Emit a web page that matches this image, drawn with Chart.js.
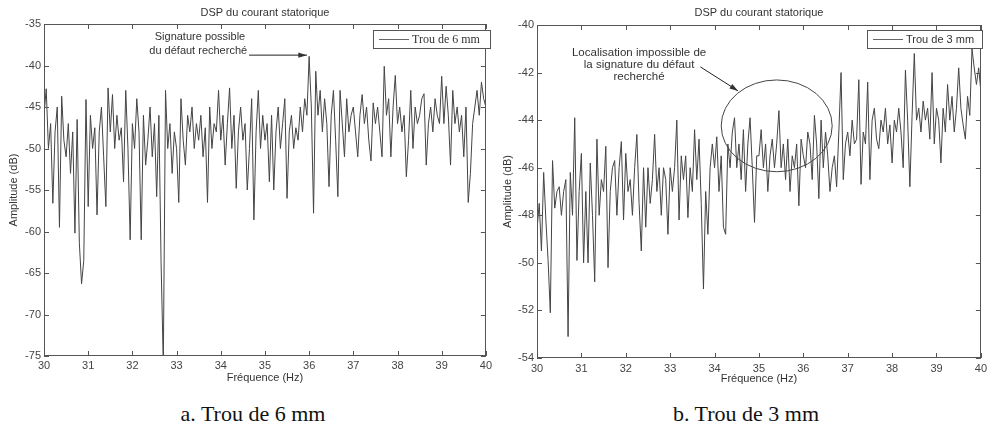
<!DOCTYPE html>
<html>
<head>
<meta charset="utf-8">
<script src="https://cdn.jsdelivr.net/npm/chart.js@4.4.1/dist/chart.umd.min.js"></script>
<style>
  body { margin: 0; background: #fff; width: 991px; height: 431px; position: relative; overflow: hidden; }
  .panel { position: absolute; top: 0; height: 395px; }
  .caption { position: absolute; top: 401px; width: 300px; text-align: center; font-family: "Liberation Serif", serif; font-size: 22px; line-height: 26px; color: #111; }
</style>
</head>
<body>
<div class="panel" style="left:0; width:495px;"><canvas id="dsp6"></canvas></div>
<div class="panel" style="left:495px; width:496px;"><canvas id="dsp3"></canvas></div>
<div class="caption" style="left:103px;">a. Trou de 6 mm</div>
<div class="caption" style="left:596px;">b. Trou de 3 mm</div>

<script>
// frequency grid: 30 Hz to 40 Hz, one point every 0.05 Hz
var freqStart = 30;
var freqStep = 0.05;

// DSP, hole of 6 mm (dB)
var dspTrou6 = [
  -46, -42.8, -50, -47, -56.6, -48, -45, -59.5, -43.7, -49,
  -51, -47, -53, -48, -60.2, -46.5, -61.4, -66.3, -63.5, -44.1,
  -57, -46, -50, -47.5, -58, -48, -45, -51, -57, -42.7,
  -48, -43.5, -50, -46, -49, -47.5, -54, -43, -50, -61,
  -47, -50, -44, -48, -61, -46, -52, -49, -45, -51,
  -47, -55.8, -46, -63.9, -76, -43, -50, -47, -53, -48,
  -50, -56.5, -44, -49, -52, -46, -48, -45, -50, -47,
  -49, -46, -51, -47.5, -56.5, -45, -50, -47, -48, -43,
  -49, -46, -52, -47, -42.7, -50, -46, -54.8, -48, -45,
  -49, -47, -55, -50, -44, -58.6, -48, -43, -50, -46,
  -49, -47, -54, -46, -55, -48, -45, -50, -47, -44,
  -56, -48, -46, -50, -47.5, -49, -45, -48, -44, -46,
  -38.9, -45, -57.8, -40.7, -46, -43, -48, -44, -47, -54.6,
  -46, -43, -49, -55.8, -43, -47, -51, -44, -48, -46,
  -45, -48, -51, -46, -43.5, -47, -45, -49, -51.5, -44.5,
  -47, -45, -48, -51, -40.1, -46, -44, -51, -45, -41.2,
  -47, -45, -48, -46, -53.4, -49, -43, -50, -45, -47,
  -46, -44, -43.4, -52, -47, -45, -48, -44, -46, -47,
  -41.3, -47, -42.5, -46, -52, -43, -47, -45, -48, -46,
  -51, -45, -56.5, -53, -47, -45, -43, -46, -42, -44,
  -45
];

// DSP, hole of 3 mm (dB)
var dspTrou3 = [
  -48.6, -47.5, -49.5, -46.2, -48.2, -49.9, -52.1, -45.7, -47.7, -47,
  -46.8, -48, -47, -46.5, -53.1, -46.2, -48, -43.9, -49.9, -47,
  -45.4, -50, -47, -50, -45.8, -48, -50.8, -44.8, -48, -46.5,
  -47, -45.1, -50.2, -47, -46, -45.7, -48, -46, -44.9, -48.2,
  -45.4, -47, -46.5, -48, -46, -44.6, -47.5, -49.5, -46, -48.5,
  -46, -47.5, -46.5, -44.6, -47, -46, -48, -46, -46.5, -48.8,
  -46, -47, -46, -44, -48.2, -45.5, -46.5, -45.5, -48.1, -46,
  -47, -44.4, -46.5, -44.8, -47.5, -51.1, -47, -48.8, -46, -45,
  -46, -44.7, -47, -45.5, -48.5, -48.8, -45, -46, -44.5, -43.9,
  -46, -45, -46.5, -44.4, -47, -45, -43.9, -46, -48.3, -45.5,
  -45.5, -44.4, -46, -45, -47, -45.5, -44.8, -46, -45, -43.6,
  -46, -45, -46.5, -44.8, -47, -45.5, -46, -45, -47.6, -44.8,
  -45.5, -46, -44.5, -45, -46.5, -43.8, -45, -47.3, -44, -46,
  -44.5, -45.5, -47, -46, -45.5, -46.8, -44.5, -42, -46.5, -45,
  -44.5, -45.5, -44, -45, -44.8, -42.3, -46.7, -44.5, -45, -42.4,
  -46.5, -44, -43.5, -44.8, -45.2, -44, -44.5, -43.5, -45, -44.2,
  -45.8, -44, -44.5, -43.5, -44.5, -46, -41.9, -44, -46.8, -43.8,
  -41.2, -44, -43.5, -44.5, -43.2, -44, -43.5, -44.8, -42, -45,
  -43.5, -44, -45.8, -43.5, -44.5, -42.5, -44, -43, -44.5, -43.5,
  -41.8, -43.5, -44.2, -44.8, -43, -43.8, -41, -41.8, -42.5, -41.8,
  -42.8
];

var titre = 'DSP du courant statorique';
var labelX = 'Fréquence (Hz)';
var labelY = 'Amplitude (dB)';

const sans = '"Liberation Sans", Arial, sans-serif';

function toPoints(values) {
  var pts = [];
  for (var i = 0; i < values.length; i++) {
    pts.push({x: freqStart + i * freqStep, y: values[i]});
  }
  return pts;
}

function arrow(ctx, x1, y1, x2, y2) {
  var ang = Math.atan2(y2 - y1, x2 - x1);
  ctx.beginPath();
  ctx.moveTo(x1, y1);
  ctx.lineTo(x2, y2);
  ctx.stroke();
  ctx.beginPath();
  ctx.moveTo(x2, y2);
  ctx.lineTo(x2 - 9 * Math.cos(ang - 0.3), y2 - 9 * Math.sin(ang - 0.3));
  ctx.lineTo(x2 - 9 * Math.cos(ang + 0.3), y2 - 9 * Math.sin(ang + 0.3));
  ctx.closePath();
  ctx.fill();
}

// matlab-like box: frame, inward ticks, title and legend
const matlabBox = {
  id: 'matlabBox',
  afterDraw(chart) {
    const ctx = chart.ctx;
    const a = chart.chartArea;
    const x = chart.scales.x, y = chart.scales.y;
    const cfg = chart.config.options.box;
    ctx.save();
    ctx.strokeStyle = '#555';
    ctx.lineWidth = 1;
    ctx.strokeRect(Math.round(a.left) + 0.5, Math.round(a.top) + 0.5, Math.round(a.width) - 1, Math.round(a.height) - 1);
    ctx.beginPath();
    x.ticks.forEach(function (t) {
      var px = Math.round(x.getPixelForValue(t.value)) + 0.5;
      ctx.moveTo(px, a.bottom); ctx.lineTo(px, a.bottom - 5);
      ctx.moveTo(px, a.top); ctx.lineTo(px, a.top + 5);
    });
    y.ticks.forEach(function (t) {
      var py = Math.round(y.getPixelForValue(t.value)) + 0.5;
      ctx.moveTo(a.left, py); ctx.lineTo(a.left + 5, py);
      ctx.moveTo(a.right, py); ctx.lineTo(a.right - 5, py);
    });
    ctx.stroke();

    ctx.fillStyle = '#333';
    ctx.font = '11px ' + sans;
    ctx.textAlign = 'center';
    ctx.textBaseline = 'middle';
    ctx.fillText(titre, (a.left + a.right) / 2, 13);

    // legend
    var lg = cfg.legend;
    ctx.fillStyle = '#fff';
    ctx.fillRect(lg.x, lg.y, lg.w, 18);
    ctx.strokeStyle = '#555';
    ctx.strokeRect(lg.x + 0.5, lg.y + 0.5, lg.w, 18);
    ctx.strokeStyle = '#666';
    ctx.beginPath();
    ctx.moveTo(lg.x + 6, lg.y + 9.5);
    ctx.lineTo(lg.x + 36, lg.y + 9.5);
    ctx.stroke();
    ctx.fillStyle = '#333';
    ctx.font = lg.font;
    ctx.textAlign = 'left';
    ctx.fillText(lg.text, lg.x + 39, lg.y + 10);
    ctx.restore();
  }
};

const noteTrou6 = {
  id: 'noteTrou6',
  afterDraw(chart) {
    const ctx = chart.ctx, x = chart.scales.x, y = chart.scales.y;
    ctx.save();
    ctx.fillStyle = '#333';
    ctx.strokeStyle = '#222';
    ctx.lineWidth = 1;
    ctx.font = '11px ' + sans;
    ctx.textAlign = 'center';
    ctx.textBaseline = 'middle';
    ctx.fillText('Signature possible', x.getPixelForValue(33.53), y.getPixelForValue(-36.6));
    ctx.fillText('du défaut recherché', x.getPixelForValue(33.49), y.getPixelForValue(-38.25));
    arrow(ctx, x.getPixelForValue(34.64), y.getPixelForValue(-38.75), x.getPixelForValue(35.95), y.getPixelForValue(-38.75));
    ctx.restore();
  }
};

const noteTrou3 = {
  id: 'noteTrou3',
  afterDraw(chart) {
    const ctx = chart.ctx, x = chart.scales.x, y = chart.scales.y;
    ctx.save();
    ctx.fillStyle = '#333';
    ctx.strokeStyle = '#222';
    ctx.lineWidth = 1;
    ctx.font = '11.5px ' + sans;
    ctx.textAlign = 'center';
    ctx.textBaseline = 'middle';
    var cx = x.getPixelForValue(32.3);
    ctx.fillText('Localisation impossible de', cx, y.getPixelForValue(-41.18));
    ctx.fillText('la signature du défaut', cx, y.getPixelForValue(-41.68));
    ctx.fillText('recherché', cx, y.getPixelForValue(-42.18));
    arrow(ctx, x.getPixelForValue(33.68), y.getPixelForValue(-41.76), x.getPixelForValue(34.53), y.getPixelForValue(-42.77));
    var ex = x.getPixelForValue(35.4), ey = y.getPixelForValue(-44.24);
    var rx = x.getPixelForValue(36.65) - ex, ry = y.getPixelForValue(-46.17) - ey;
    ctx.strokeStyle = '#444';
    ctx.beginPath();
    ctx.ellipse(ex, ey, rx, ry, 0, 0, Math.PI * 2);
    ctx.stroke();
    ctx.restore();
  }
};

const dspChart = function (canvasName, values, yMin, yMax, yStep, geo, legend, note) {
  var config = {
    type: 'line',
    data: {
      datasets: [{
        data: toPoints(values),
        borderColor: '#444',
        borderWidth: 1,
        pointRadius: 0,
        tension: 0
      }]
    },
    options: {
      responsive: true,
      maintainAspectRatio: false,
      animation: false,
      layout: { padding: { top: geo.top, right: geo.right, left: 0, bottom: 0 } },
      box: { legend: legend },
      plugins: { legend: { display: false }, tooltip: { enabled: false } },
      scales: {
        x: {
          type: 'linear',
          min: 30,
          max: 40,
          grid: { display: false, drawTicks: false },
          border: { display: false },
          ticks: { stepSize: 1, maxRotation: 0, autoSkip: false, padding: geo.xPad, color: '#444', font: { family: sans, size: 11 } },
          title: { display: true, text: labelX, color: '#333', font: { family: sans, size: 11 }, padding: { top: 0, bottom: geo.xTitle } },
          afterFit: function (scale) { scale.height = geo.xHeight; }
        },
        y: {
          min: yMin,
          max: yMax,
          grid: { display: false, drawTicks: false },
          border: { display: false },
          ticks: { stepSize: yStep, padding: 3, color: '#444', font: { family: sans, size: 11 } },
          title: { display: true, text: labelY, color: '#333', font: { family: sans, size: 11 }, padding: { top: geo.yTitle, bottom: 0 } },
          afterFit: function (scale) { scale.width = geo.yWidth; }
        }
      }
    },
    plugins: [matlabBox, note]
  };
  var ctx = document.getElementById(canvasName).getContext('2d');
  return new Chart(ctx, config);
};

dspChart('dsp6', dspTrou6, -75, -35, 5,
  { top: 24, right: 3, xHeight: 39, xPad: 3, xTitle: 10, yWidth: 44, yTitle: 7 },
  { x: 373, y: 30, w: 117, text: 'Trou de 6 mm', font: '12px "Liberation Serif", serif' },
  noteTrou6);

dspChart('dsp3', dspTrou3, -54, -40, 2,
  { top: 25, right: 6, xHeight: 37, xPad: 4, xTitle: 9, yWidth: 42, yTitle: 6 },
  { x: 372, y: 30, w: 115, text: 'Trou de 3 mm', font: '11px ' + sans },
  noteTrou3);
</script>
</body>
</html>
